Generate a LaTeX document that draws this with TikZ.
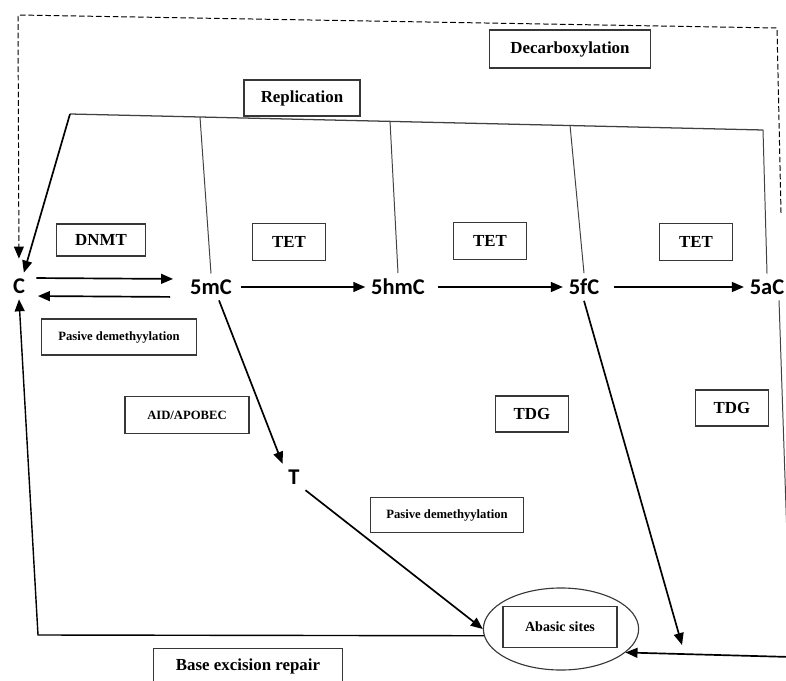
\documentclass[tikz,border=0pt]{standalone}
\usepackage{fontspec}
\setmainfont{Liberation Serif}
\newfontfamily\basefont{Carlito}
\usetikzlibrary{arrows.meta,shapes.geometric}
\definecolor{boxline}{RGB}{55,55,55}
\definecolor{thinline}{RGB}{65,65,65}

\begin{document}
\begin{tikzpicture}[x=0.025cm, y=-0.025cm,
  every node/.style={font=\bfseries\fontsize{12}{14}\selectfont},
  tag/.style={draw=boxline, line width=0.8pt, inner sep=0pt},
  small/.style={font=\bfseries\fontsize{9}{11}\selectfont},
  base/.style={font=\basefont\bfseries\fontsize{16}{19}\selectfont, inner sep=4pt},
  arr/.style={line width=1.2pt, -{Triangle[length=8.5pt,width=7pt]}},
  link/.style={draw=thinline, line width=0.7pt},
  loopline/.style={line width=0.7pt, dash pattern=on 4pt off 2pt}]
  \useasboundingbox (0,0) rectangle (786,681);
  \clip (0,0) rectangle (786,681);

  \node[tag,minimum width=2.9cm,minimum height=0.9cm] (repl) at (302,98) {Replication};
  \node[tag,minimum width=4.03cm,minimum height=0.95cm] (decarb) at (570,49) {Decarboxylation};
  \node[tag,minimum width=2.23cm,minimum height=0.8cm] (dnmt) at (101,240) {DNMT};
  \node[tag,minimum width=1.83cm,minimum height=0.93cm] (tetA) at (289,242) {TET};
  \node[tag,minimum width=1.83cm,minimum height=0.93cm] (tetB) at (490,241) {TET};
  \node[tag,minimum width=1.83cm,minimum height=0.93cm] (tetC) at (696,242) {TET};
  \node[tag,small,minimum width=3.88cm,minimum height=0.9cm] (pasA) at (119,337) {Pasive demethyylation};
  \node[tag,small,minimum width=3.1cm,minimum height=0.93cm] (aid) at (187,415) {AID/APOBEC};
  \node[tag,minimum width=1.83cm,minimum height=0.9cm] (tdgA) at (532,414) {TDG};
  \node[tag,minimum width=1.83cm,minimum height=0.9cm] (tdgB) at (732,408) {TDG};
  \node[tag,small,minimum width=3.83cm,minimum height=0.88cm] (pasB) at (447,515) {Pasive demethyylation};
  \node[draw=boxline,line width=0.8pt,ellipse,minimum width=3.88cm,minimum height=2.05cm] (ell) at (561,629) {};
  \node[tag,font=\bfseries\fontsize{10}{12}\selectfont,minimum width=2.85cm,minimum height=1.03cm] (abasic) at (560,627) {Abasic sites};
  \node[tag,minimum width=4.73cm,minimum height=0.88cm] (ber) at (248,666) {Base excision repair};

  \node[base] (nC) at (19,286) {C};
  \node[base] (n5mC) at (211,287) {5mC};
  \node[base] (n5hmC) at (398,287) {5hmC};
  \node[base] (n5fC) at (584,287) {5fC};
  \node[base] (n5aC) at (767,287) {5aC};
  \node[base] (nT) at (294,477) {T};

  \coordinate (replL) at (70,114);
  \coordinate (replR) at (763,130);
  \coordinate (rep1) at (200,117);
  \coordinate (rep2) at (390,121);
  \coordinate (rep3) at (570,125);
  \coordinate (dashTL) at (18,15);
  \coordinate (dashTR) at (777,28);
  \coordinate (dashEnd) at (781,213);
  \coordinate (cR) at (791,657);
  \coordinate (cBL) at (38,635);
  \coordinate (tdgEnd) at (682,645);

  \draw[loopline,-{Triangle[length=8.5pt,width=7pt]},shorten >=10pt] (dashEnd) -- (dashTR) -- (dashTL) -- (nC.north);
  \draw[link,line width=0.9pt] (replL) -- (replR);
  \draw[arr] (replL) -- (nC.70);
  \draw[link] (rep1) -- (n5mC.north);
  \draw[link] (rep2) -- (n5hmC.north);
  \draw[link] (rep3) -- (n5fC.north);
  \draw[link] (replR) -- (n5aC.north);

  \draw[arr,shorten <=4pt,shorten >=8pt] ([yshift=0.2cm]nC.east) -- ([yshift=0.2cm]n5mC.west);
  \draw[arr,shorten <=10pt,shorten >=5pt] ([yshift=-0.25cm]n5mC.west) -- ([yshift=-0.25cm]nC.east);
  \draw[arr,shorten <=2pt] (n5mC) -- (n5hmC);
  \draw[arr,shorten <=5pt] (n5hmC) -- (n5fC);
  \draw[arr,shorten <=6pt] (n5fC) -- (n5aC);

  \draw[arr] ([xshift=0.2cm]n5mC.south) -- (nT.north west);
  \draw[arr] (nT.south east) -- (ell.west);
  \draw[arr] (n5fC.south) -- (tdgEnd);
  \draw[link] ([xshift=0.3cm]n5aC.south) -- (cR);
  \draw[arr] (cR) -- (ell.-20);
  \draw[arr,line width=1pt] (ell.185) -- (cBL) -- (nC.south);
\end{tikzpicture}
\end{document}
